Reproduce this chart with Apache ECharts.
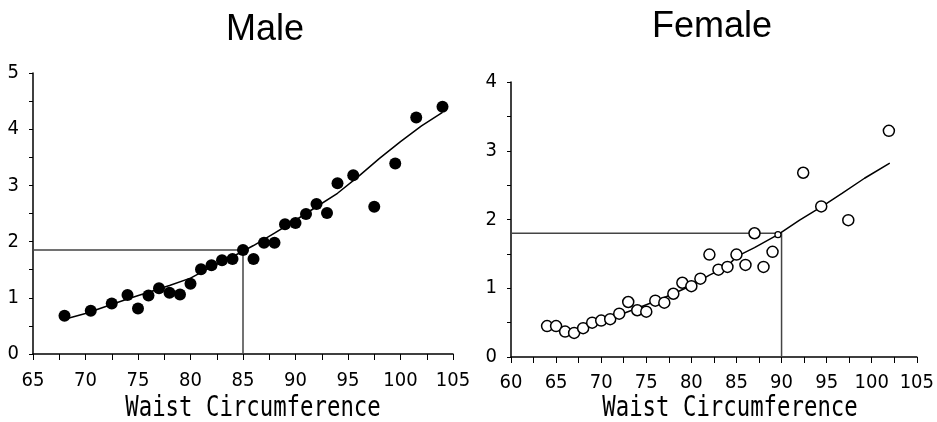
<!DOCTYPE html>
<html><head><meta charset="utf-8">
<script src="https://cdn.jsdelivr.net/npm/echarts@6/dist/echarts.min.js"></script>
<style>html,body{margin:0;padding:0;background:#fff}#c{width:937px;height:422px}</style>
</head><body><div id="c"></div>
<script>
// Male
const maleX = [68,70.5,72.5,74,75,76,77,78,79,80,81,82,83,84,85,86,87,88,89,90,91,92,93,94,95.5,97.5,99.5,101.5,104];
const maleY = [0.68,0.77,0.90,1.05,0.81,1.04,1.17,1.09,1.06,1.25,1.51,1.58,1.67,1.69,1.85,1.69,1.98,1.98,2.31,2.33,2.49,2.67,2.51,3.04,3.18,2.62,3.39,4.21,4.40];
const maleFitX = [68,70,72,74,76,78,80,82,84,86,88,90,92,94,96,98,100,102,104];
const maleFitY = [0.62,0.72,0.85,0.98,1.10,1.22,1.35,1.55,1.73,1.93,2.15,2.38,2.62,2.86,3.16,3.48,3.78,4.06,4.30];
const maleCut = [85, 1.85];
// Female
const femaleX = [64,65,66,67,68,69,70,71,72,73,74,75,76,77,78,79,80,81,82,83,84,85,86,87,88,89,92.4,94.4,97.4,101.9];
const femaleY = [0.45,0.45,0.37,0.35,0.42,0.50,0.53,0.55,0.63,0.80,0.68,0.66,0.82,0.79,0.92,1.08,1.03,1.14,1.49,1.27,1.31,1.49,1.34,1.80,1.31,1.53,2.68,2.19,1.99,3.29];
const femaleFitX = [64,65,66,67,68,70,72,74,76,78,80,82,84,85,87,89.6,92,94.5,96.7,99.2,102];
const femaleFitY = [0.44,0.42,0.38,0.38,0.42,0.51,0.61,0.71,0.81,0.92,1.04,1.19,1.32,1.46,1.59,1.78,1.99,2.19,2.38,2.60,2.82];
const femaleCut = [90, 1.8];
const femaleCutMarker = [89.6, 1.78];
// Axes
const maleXRange = [65, 105], maleYRange = [0, 5];
const femaleXRange = [60, 105], femaleYRange = [0, 4];
const titles = ['Male', 'Female'];
const xName = 'Waist Circumference';

const zip = (xs, ys) => xs.map((x, i) => [x, ys[i]]);
const tickFont = "'Liberation Sans Narrow','DejaVu Sans Condensed','Liberation Sans',Arial,sans-serif";

function xAxis(idx, range, margin) {
  return {
    type: 'value', gridIndex: idx, min: range[0], max: range[1], interval: 2.5,
    axisLine: {show: true, onZero: false, lineStyle: {color: '#000', width: 1.5}},
    axisTick: {show: true, length: 6, lineStyle: {color: '#000', width: 1}},
    splitLine: {show: false},
    axisLabel: {color: '#000', fontSize: 20, fontFamily: tickFont, margin: margin,
      formatter: v => (Math.abs(v % 5) < 1e-9 ? String(v) : '')}
  };
}
function yAxis(idx, range) {
  return {
    type: 'value', gridIndex: idx, min: range[0], max: range[1], interval: 0.5,
    axisLine: {show: true, onZero: false, lineStyle: {color: '#000', width: 1.5}},
    axisTick: {show: true, length: 4, lineStyle: {color: '#000', width: 1}},
    splitLine: {show: false},
    axisLabel: {color: '#000', fontSize: 20, fontFamily: tickFont, margin: 14,
      formatter: v => (Math.abs(v % 1) < 1e-9 ? String(v) : '')}
  };
}

const chart = echarts.init(document.getElementById('c'));
chart.setOption({
  animation: false,
  grid: [
    {left: 33, right: 484, top: 73, bottom: 68},
    {left: 511, right: 14, top: 82, bottom: 65}
  ],
  xAxis: [xAxis(0, maleXRange, 17), xAxis(1, femaleXRange, 16)],
  yAxis: [yAxis(0, maleYRange), yAxis(1, femaleYRange)],
  graphic: [
    {type: 'text', x: 265, y: 30, style: {text: titles[0], font: "36px 'Liberation Sans', Arial, sans-serif", fill: '#000', textAlign: 'center', textVerticalAlign: 'middle', align: 'center', verticalAlign: 'middle'}},
    {type: 'text', x: 712, y: 27, style: {text: titles[1], font: "36px 'Liberation Sans', Arial, sans-serif", fill: '#000', textAlign: 'center', textVerticalAlign: 'middle', align: 'center', verticalAlign: 'middle'}},
    {type: 'text', x: 253, y: 408, scaleX: 0.77, style: {text: xName, font: "29px 'DejaVu Sans Mono', monospace", fill: '#000', textAlign: 'center', textVerticalAlign: 'middle', align: 'center', verticalAlign: 'middle'}},
    {type: 'text', x: 730, y: 408, scaleX: 0.77, style: {text: xName, font: "29px 'DejaVu Sans Mono', monospace", fill: '#000', textAlign: 'center', textVerticalAlign: 'middle', align: 'center', verticalAlign: 'middle'}}
  ],
  series: [
    {type: 'line', xAxisIndex: 0, yAxisIndex: 0, data: [[maleXRange[0], maleCut[1]], maleCut, [maleCut[0], maleYRange[0]]],
      symbol: 'none', lineStyle: {color: '#444', width: 1.5}, z: 1},
    {type: 'line', xAxisIndex: 0, yAxisIndex: 0, data: zip(maleFitX, maleFitY), symbol: 'none',
      lineStyle: {color: '#000', width: 1.5}, z: 2},
    {type: 'scatter', xAxisIndex: 0, yAxisIndex: 0, data: zip(maleX, maleY), symbolSize: 12,
      itemStyle: {color: '#000', opacity: 1}, z: 3},
    {type: 'line', xAxisIndex: 1, yAxisIndex: 1, data: [[femaleXRange[0], femaleCut[1]], femaleCut, [femaleCut[0], femaleYRange[0]]],
      symbol: 'none', lineStyle: {color: '#444', width: 1.5}, z: 1},
    {type: 'line', xAxisIndex: 1, yAxisIndex: 1, data: zip(femaleFitX, femaleFitY), symbol: 'none',
      lineStyle: {color: '#000', width: 1.5}, z: 2},
    {type: 'scatter', xAxisIndex: 1, yAxisIndex: 1, data: zip(femaleX, femaleY), symbolSize: 11,
      itemStyle: {color: '#fff', borderColor: '#000', borderWidth: 1.5, opacity: 1}, z: 3},
    {type: 'scatter', xAxisIndex: 1, yAxisIndex: 1, data: [femaleCutMarker], symbolSize: 6,
      itemStyle: {color: '#fff', borderColor: '#000', borderWidth: 1.2, opacity: 1}, z: 3}
  ]
});
</script></body></html>
